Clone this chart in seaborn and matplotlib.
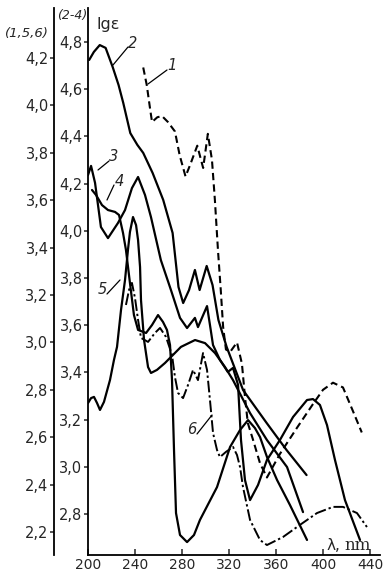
import matplotlib
matplotlib.use("Agg")
import matplotlib.pyplot as plt
import seaborn as sns

# ---------------- data ----------------
# curves 2-4: inner lg(eps) scale ; curves 1,5,6: outer lg(eps) scale
wl_1 = [247, 250, 253, 254.5, 259, 263, 268, 274, 278, 283, 287, 293, 298, 302, 305.5,
        308, 310.6, 313, 315, 317.4, 321, 326.8, 331, 333.6, 336, 340.4, 346.4, 352.3,
        363.4, 377.9, 391.5, 400, 408.5, 417, 425.5, 433]
lg_1 = [4.16, 4.086, 3.98, 3.93, 3.95, 3.955, 3.93, 3.89, 3.79, 3.70, 3.75, 3.83, 3.736,
        3.88, 3.77, 3.60, 3.39, 3.22, 3.065, 2.97, 2.96, 3.00, 2.91, 2.77, 2.66, 2.59,
        2.49, 2.43, 2.53, 2.64, 2.74, 2.80, 2.83, 2.81, 2.71, 2.62]

wl_2 = [201, 205, 210, 215, 221, 226, 230, 236, 242, 247, 255, 264, 272, 277, 281, 286,
        291, 295, 301, 306, 311, 318, 332, 352, 369, 386]
lg_2 = [4.724, 4.758, 4.787, 4.775, 4.694, 4.618, 4.542, 4.414, 4.364, 4.330, 4.245,
        4.131, 3.991, 3.762, 3.694, 3.749, 3.834, 3.749, 3.851, 3.770, 3.622, 3.508,
        3.325, 3.186, 3.071, 2.965]

wl_3 = [200, 202.6, 206, 211, 217, 225.5, 231.5, 237.4, 242.6, 248.5, 253.6, 262, 270.6,
        278.3, 284.3, 291, 293.6, 301.3, 303.8, 306.4, 312.3, 319, 323.4, 327.7, 330.2,
        333.6, 337.9, 344.7, 352.3, 363.4, 374.5, 386.4, 391.5, 397.4, 403.4, 410.2,
        418.7, 431.5]
lg_3 = [4.236, 4.275, 4.203, 4.016, 3.969, 4.033, 4.088, 4.181, 4.228, 4.152, 4.058,
        3.876, 3.749, 3.631, 3.588, 3.631, 3.592, 3.681, 3.601, 3.516, 3.453, 3.402,
        3.419, 3.347, 3.114, 2.944, 2.859, 2.923, 3.029, 3.114, 3.211, 3.283, 3.287,
        3.262, 3.177, 3.029, 2.859, 2.690]

wl_4 = [203.4, 206.8, 211.9, 217, 223, 226.4, 229.8, 232.3, 235.7, 239.1, 242.6, 249.4,
        254.5, 259.6, 263.8, 267.2, 269.8, 271.5, 273.2, 274.9, 278.3, 284.3, 290.2,
        295.3, 309.8, 320.9, 329.4, 336.2, 342.1, 346.4, 352.3, 360.9, 371.9, 386.4]
lg_4 = [4.173, 4.152, 4.109, 4.088, 4.080, 4.067, 3.991, 3.919, 3.779, 3.643, 3.580,
        3.567, 3.601, 3.643, 3.614, 3.580, 3.516, 3.368, 3.071, 2.804, 2.711, 2.681,
        2.711, 2.775, 2.914, 3.084, 3.156, 3.198, 3.164, 3.126, 3.042, 2.944, 2.838, 2.690]

wl_5 = [200, 202.6, 205.1, 207.7, 210.2, 213.6, 218.7, 222.1, 224.7, 228.1, 231.5, 234,
        235.7, 238.3, 240.9, 242.6, 244.3, 245.1, 247.7, 251.1, 253.6, 258.7, 265.5,
        279.1, 291.1, 299.6, 308.1, 316.6, 323.4, 337.9, 352.3, 369.4, 383]
lg_5 = [2.744, 2.765, 2.770, 2.744, 2.715, 2.749, 2.841, 2.926, 2.981, 3.137, 3.263,
        3.390, 3.466, 3.529, 3.495, 3.432, 3.318, 3.179, 3.010, 2.896, 2.871, 2.884,
        2.913, 2.981, 3.010, 2.997, 2.955, 2.896, 2.841, 2.702, 2.588, 2.474, 2.284]

wl_6 = [232.3, 234.9, 237.4, 240, 242.6, 245.1, 251.1, 257, 261.3, 266.4, 271.5, 274,
        276.6, 280.9, 285.1, 289.4, 293.6, 297.9, 301.3, 303.8, 306.4, 309.8, 312.3,
        317.4, 323.4, 326.8, 329.4, 331.9, 337.9, 346.4, 352.3, 366, 380.4, 394.9,
        408.5, 417, 428.9, 437.4]
lg_6 = [3.158, 3.221, 3.251, 3.187, 3.095, 3.019, 3.002, 3.040, 3.061, 3.023, 2.947,
        2.854, 2.787, 2.765, 2.820, 2.884, 2.841, 2.955, 2.884, 2.757, 2.618, 2.546,
        2.516, 2.538, 2.559, 2.525, 2.474, 2.390, 2.251, 2.166, 2.145, 2.179, 2.230,
        2.280, 2.306, 2.306, 2.280, 2.221]

x_ticks = [200, 240, 280, 320, 360, 400, 440]
inner_ticks = [2.8, 3.0, 3.2, 3.4, 3.6, 3.8, 4.0, 4.2, 4.4, 4.6, 4.8]
outer_ticks = [2.2, 2.4, 2.6, 2.8, 3.0, 3.2, 3.4, 3.6, 3.8, 4.0, 4.2]

# ---------------- figure ----------------
sns.set_style("ticks")
plt.rcParams['font.family'] = ['DejaVu Sans']

W, H = 385, 575
fig = plt.figure(figsize=(W / 100, H / 100), dpi=100)

def px(x, y):
    return (x / W, 1 - y / H)

L, R, T, B = 88, 380, 8, 555
ax = fig.add_axes([L / W, 1 - B / H, (R - L) / W, (B - T) / H])
ax.set_xlim(200, 200 + (R - L) / 1.175)
ax.set_ylim(4.8 - (B - 42) / 236, 4.8 + (42 - T) / 236)

ax2 = ax.twinx()
ax2.set_ylim(4.2 - (B - 58) / 237, 4.2 + (58 - T) / 237)

black = "black"
sns.lineplot(x=wl_2, y=lg_2, ax=ax, color=black, lw=1.6, estimator=None, sort=False)
sns.lineplot(x=wl_3, y=lg_3, ax=ax, color=black, lw=1.6, estimator=None, sort=False)
sns.lineplot(x=wl_4, y=lg_4, ax=ax, color=black, lw=1.6, estimator=None, sort=False)
sns.lineplot(x=wl_1, y=lg_1, ax=ax2, color=black, lw=1.5, estimator=None, sort=False,
             linestyle=(0, (3.5, 2)))
sns.lineplot(x=wl_5, y=lg_5, ax=ax2, color=black, lw=1.6, estimator=None, sort=False)
sns.lineplot(x=wl_6, y=lg_6, ax=ax2, color=black, lw=1.4, estimator=None, sort=False,
             linestyle=(0, (6, 1.5, 1.2, 1.5)))

# axes styling
for s in ["top", "right"]:
    ax.spines[s].set_visible(False)
for s in ["top", "right", "bottom"]:
    ax2.spines[s].set_visible(False)
ax2.spines["left"].set_visible(True)
ax2.spines["left"].set_position(("axes", -(L - 54) / (R - L)))
ax2.yaxis.set_ticks_position("left")
ax2.yaxis.set_label_position("left")
for a in (ax, ax2):
    for s in a.spines.values():
        s.set_linewidth(1.3)
        s.set_color("black")

fs = 10
ax.set_xticks(x_ticks)
ax.set_xticklabels([str(v) for v in x_ticks], fontsize=fs)
ax.tick_params(axis="x", direction="in", length=4, width=1.1, pad=2)
ax.set_yticks(inner_ticks)
ax.set_yticklabels([f"{v:.1f}".replace(".", ",") for v in inner_ticks], fontsize=10.5)
ax.tick_params(axis="y", direction="out", length=3, width=1.1, pad=1)
ax2.set_yticks(outer_ticks)
ax2.set_yticklabels([f"{v:.1f}".replace(".", ",") for v in outer_ticks], fontsize=10.5)
ax2.tick_params(axis="y", direction="out", length=3, width=1.1, pad=1,
                left=True, right=False, labelleft=True, labelright=False)
ax.set_xlabel("")
ax.set_ylabel("")
ax2.set_ylabel("")

# axis titles
fig.text(*px(27, 33), "(1,5,6)", fontsize=9.5, style="italic", ha="center", va="center")
fig.text(*px(72, 15), "(2-4)", fontsize=9, style="italic", ha="center", va="center")
fig.text(*px(108, 24), "lgε", fontsize=11.5, ha="center", va="center")
fig.text(*px(333, 545), "λ,", fontsize=11, ha="center", va="center")
fig.text(*px(358, 545), "nm", fontsize=12, family="DejaVu Serif", ha="center", va="center")

# curve labels with leader lines
labels = [("1", (172, 66), (148, 84)),
          ("2", (133, 43), (113, 65)),
          ("3", (114, 157), (98, 170)),
          ("4", (119, 181), (107, 200)),
          ("5", (102, 290), (120, 280)),
          ("6", (192, 430), (212, 415))]
for t, tp, lp in labels:
    fig.text(*px(*tp), t, fontsize=10.5, style="italic", ha="center", va="center")
    x0, y0 = px(*lp)
    x1, y1 = px(tp[0] - 5 if lp[0] < tp[0] else tp[0] + 5, tp[1] + 4)
    fig.add_artist(plt.Line2D([x0, x1], [y0, y1], color="black", lw=0.9,
                              transform=fig.transFigure))

fig.savefig("out.png", dpi=100)
